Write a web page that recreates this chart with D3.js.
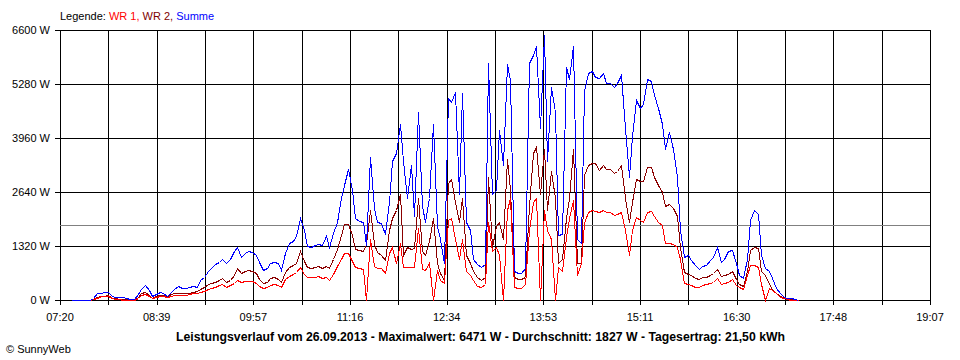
<!DOCTYPE html>
<html><head><meta charset="utf-8">
<script src="https://cdn.jsdelivr.net/npm/d3@7"></script>
<style>
html,body{margin:0;padding:0;background:#fff;}
svg{display:block;}
text{font-family:"Liberation Sans", Arial, sans-serif;}
</style></head><body>
<svg id="chart" width="960" height="360"></svg>
<script>
// ---- data ----
const seriesNames = ["WR 1", "WR 2", "Summe"];
const startTime = "07:29";
const stepMinutes = 3;
const wr1 = [
0,0,0,0,0,0,20,60,90,100,
100,40,20,15,10,10,5,5,60,120,
150,100,40,80,90,90,85,110,120,130,
125,130,140,160,165,190,220,260,290,320,
360,390,330,370,420,500,430,460,475,460,
420,340,290,310,370,390,360,320,520,580,
630,680,800,640,560,560,570,580,540,560,
500,640,830,1000,1150,1150,950,800,780,770,
0,1500,820,790,780,660,1150,1300,900,1400,
800,810,800,800,1750,750,730,900,0,730,
480,420,1950,2000,1500,1000,1500,700,600,500,
340,320,400,1900,1200,1300,1100,0,2200,2500,
330,300,290,400,1700,2400,2500,0,2200,1700,
1500,0,800,700,1550,2000,2440,600,900,1880,
2160,2200,2180,2150,2200,2150,2160,2080,2100,2160,
1700,1100,1700,2030,1950,1900,2150,2180,2050,1900,
1830,1400,1400,1380,1300,1000,420,380,370,330,
320,370,380,420,440,530,400,410,430,520,
370,320,270,600,850,860,800,400,0,300,
240,160,80,40,20,10,5,0];
const wr2 = [
0,0,0,0,0,0,30,80,100,110,
120,60,40,30,20,20,10,10,80,160,
200,130,60,110,120,120,110,150,180,170,
160,170,175,200,220,260,330,390,410,430,
500,540,440,490,620,780,650,700,740,720,
650,520,410,450,540,560,520,450,680,800,
860,900,1200,950,800,790,800,820,790,830,
780,1000,1250,1600,1850,1850,1600,1240,1220,1200,
1380,2200,1380,1170,1100,980,1700,2000,2200,2600,
1100,1300,1250,1280,2500,1200,1100,1450,2000,900,
650,500,2850,2970,2400,1900,2500,1100,900,700,
560,490,560,3000,1300,1800,1900,1500,3450,2700,
560,520,520,570,2300,3600,3750,2600,3700,2200,
3150,2500,900,1000,2000,2500,3700,900,900,3050,
3300,3350,3350,3180,3300,3200,3200,3100,3150,3300,
2500,1900,2400,2950,2900,2900,3250,3250,3000,2800,
2650,2300,2350,2250,2050,1300,680,640,620,540,
520,560,570,620,650,770,580,600,640,720,
520,400,340,700,1230,1300,1260,700,620,400,
270,180,90,50,30,15,5,0];
const summe = [
0,10,0,0,0,5,60,170,170,190,
200,90,80,70,70,60,20,20,150,280,
360,250,90,150,190,180,90,200,260,350,
290,300,310,340,330,480,570,700,780,880,
940,1000,900,1000,1200,1290,1040,1150,1210,1180,
1100,930,730,780,910,930,900,740,1150,1400,
1450,1560,2000,1700,1330,1300,1340,1380,1350,1560,
1300,1650,1900,2500,2800,3200,2700,2000,1920,1900,
1350,3500,2250,1900,1880,1620,2400,3400,3600,4300,
3400,2500,3300,2050,4600,2300,1900,2500,4300,1800,
1500,900,4950,4850,5090,2600,5050,1900,1700,1000,
880,810,880,5800,2600,2700,4150,3300,5780,5380,
700,670,670,780,5800,6000,6200,4200,6470,3400,
5200,4600,1600,1620,5700,5400,6200,1500,1400,5100,
5560,5600,5450,5420,5540,5300,5300,5200,5300,5500,
4200,3000,4000,4900,4700,4800,5400,5350,5000,4700,
4300,3700,4100,3700,3000,1700,1050,1100,980,850,
760,840,860,980,1050,1300,940,1000,1200,1220,
900,610,540,1000,1950,2200,2100,1100,780,700,
550,300,170,80,60,40,20,0];
const yTicks = [0, 1320, 2640, 3960, 5280, 6600];
const xTickLabels = ["07:20","08:39","09:57","11:16","12:34","13:53","15:11","16:30","17:48","19:07"];
const xDomain = ["07:20", "19:07"];
const gridDivisions = 18;
const avgValue = 1827;
const titleText = "Leistungsverlauf vom 26.09.2013 - Maximalwert: 6471 W - Durchschnitt: 1827 W - Tagesertrag: 21,50 kWh";
const creditText = "\u00A9 SunnyWeb";

// ---- helpers ----
const parseT = s => { const [h, m] = s.split(":").map(Number); return new Date(2013, 8, 26, h, m); };
const t0 = parseT(startTime);
const timeAt = i => new Date(t0.getTime() + i * stepMinutes * 60000);

const svg = d3.select("#chart");
const L = 60, R = 930, T = 30, B = 300;
const x = d3.scaleTime().domain(xDomain.map(parseT)).range([L, R]);
const y = d3.scaleLinear().domain([0, 6600]).range([B, T]);
const px = v => Math.round(v) + 0.5;

// grid
const d0 = x.domain()[0].getTime(), d1 = x.domain()[1].getTime();
const gridTimes = d3.range(gridDivisions + 1).map(k => new Date(d0 + (d1 - d0) * k / gridDivisions));
const g = svg.append("g").attr("shape-rendering", "crispEdges");
g.selectAll("line.v").data(gridTimes).join("line")
  .attr("x1", d => px(x(d))).attr("x2", d => px(x(d)))
  .attr("y1", T).attr("y2", B + 5)
  .attr("stroke", "#000").attr("stroke-width", 1);
g.selectAll("line.h").data(yTicks).join("line")
  .attr("x1", L - 5).attr("x2", R + 1)
  .attr("y1", d => px(y(d))).attr("y2", d => px(y(d)))
  .attr("stroke", "#000").attr("stroke-width", 1);

// average line
g.append("line")
  .attr("x1", L).attr("x2", R)
  .attr("y1", px(y(avgValue))).attr("y2", px(y(avgValue)))
  .attr("stroke", "#808080").attr("stroke-width", 1);

// y labels
svg.selectAll("text.yl").data(yTicks).join("text")
  .attr("x", 50).attr("y", d => y(d) + 4)
  .attr("text-anchor", "end").attr("font-size", 11).attr("fill", "#000")
  .text(d => d + " W");

// x labels
svg.selectAll("text.xl").data(xTickLabels).join("text")
  .attr("x", (d, i) => x(gridTimes[i * 2]))
  .attr("y", 321)
  .attr("text-anchor", "middle").attr("font-size", 11).attr("fill", "#000")
  .text(d => d);

// series
const series = [
  { name: seriesNames[1], values: wr2, color: "#8b0000" },
  { name: seriesNames[0], values: wr1, color: "#ff0000" },
  { name: seriesNames[2], values: summe, color: "#0000ff" }
];
const line = d3.line()
  .x((d, i) => Math.round(x(timeAt(i))) + 0.5)
  .y(d => Math.round(y(d)) + 0.5);
svg.append("g").attr("shape-rendering", "crispEdges").selectAll("path").data(series).join("path")
  .attr("d", d => line(d.values))
  .attr("fill", "none").attr("stroke", d => d.color).attr("stroke-width", 1)
  .attr("stroke-linejoin", "miter");

// legend
const leg = svg.append("text").attr("x", 60).attr("y", 20).attr("font-size", 11);
leg.append("tspan").attr("fill", "#000").text("Legende: ");
leg.append("tspan").attr("fill", "#ff0000").text(seriesNames[0] + ", ");
leg.append("tspan").attr("fill", "#800000").text(seriesNames[1] + ", ");
leg.append("tspan").attr("fill", "#0000ff").text(seriesNames[2]);

// title
svg.append("text").attr("x", 176).attr("y", 341)
  .attr("font-size", 12.5).attr("font-weight", "bold").attr("fill", "#000")
  .attr("textLength", 609).attr("lengthAdjust", "spacingAndGlyphs")
  .text(titleText);

// credit
svg.append("text").attr("x", 6).attr("y", 353).attr("font-size", 11).attr("fill", "#000")
  .text(creditText);
</script>
</body></html>
